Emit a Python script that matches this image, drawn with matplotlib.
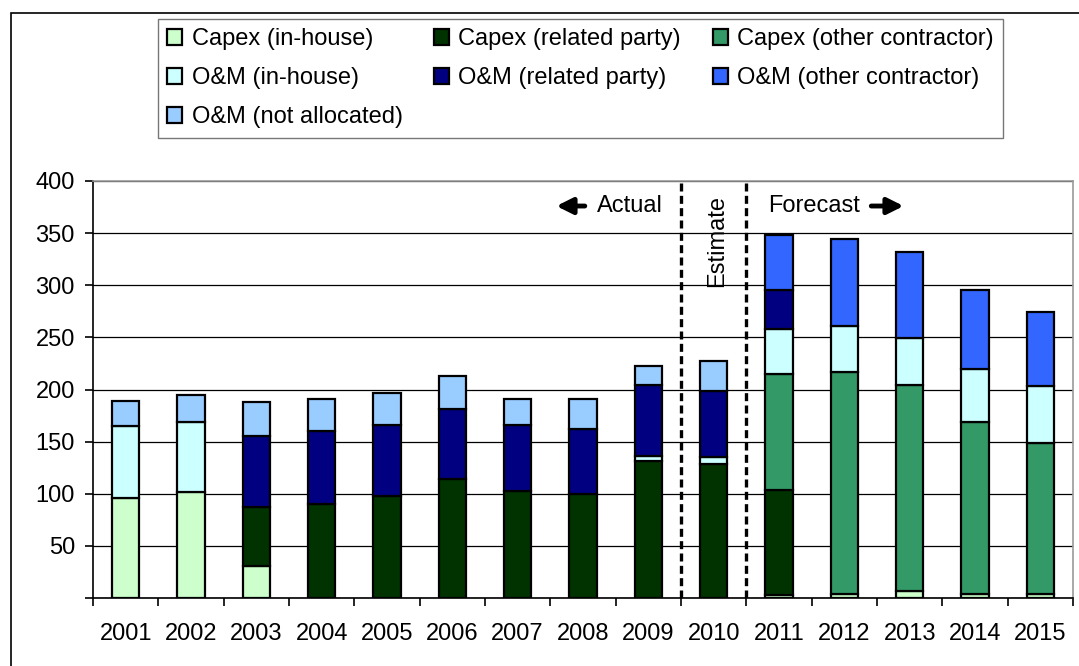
import numpy as np
import matplotlib
matplotlib.use("Agg")
import matplotlib.pyplot as plt
from matplotlib.patches import Rectangle

plt.rcParams['font.family'] = ['Liberation Sans', 'DejaVu Sans']

years = ['2001', '2002', '2003', '2004', '2005', '2006', '2007', '2008',
         '2009', '2010', '2011', '2012', '2013', '2014', '2015']

capex_inhouse = [96, 102, 31, 0, 0, 0, 0, 0, 0, 0, 3, 3.5, 7, 3.5, 3.5]
capex_related = [0, 0, 56, 90.5, 98, 114, 103, 100, 131, 129, 100.5, 0, 0, 0, 0]
capex_other = [0, 0, 0, 0, 0, 0, 0, 0, 0, 0, 111, 213, 197, 165.5, 145.5]
om_inhouse = [69, 67, 0, 0, 0, 0, 0, 0, 5, 6.5, 43.5, 44, 45, 51, 54.5]
om_related = [0, 0, 68, 70, 67.5, 67.5, 62.5, 62, 68, 63, 37, 0, 0, 0, 0]
om_other = [0, 0, 0, 0, 0, 0, 0, 0, 0, 0, 53, 84, 82.5, 75, 71]
om_notalloc = [24, 25.5, 33, 30.5, 31, 31, 25.5, 29, 18.5, 28.5, 0, 0, 0, 0, 0]

series = [
    ('Capex (in-house)', capex_inhouse, '#CCFFCC'),
    ('Capex (related party)', capex_related, '#003300'),
    ('Capex (other contractor)', capex_other, '#339966'),
    ('O&M (in-house)', om_inhouse, '#CCFFFF'),
    ('O&M (related party)', om_related, '#000080'),
    ('O&M (other contractor)', om_other, '#3366FF'),
    ('O&M (not allocated)', om_notalloc, '#99CCFF'),
]

FS = 17
fig = plt.figure(figsize=(10.79, 6.66), dpi=100)
ax = fig.add_axes([93/1079, 1 - 598/666, 980/1079, 417/666])

x = np.arange(len(years))
bottom = np.zeros(len(years))
handles = {}
for name, vals, col in series:
    vals = np.array(vals, dtype=float)
    m = vals > 0
    h = ax.bar(x[m], vals[m], width=0.42, bottom=bottom[m], color=col,
               edgecolor='black', linewidth=1.6, zorder=3, label=name)
    handles[name] = h
    bottom += vals

ax.set_xlim(-0.5, len(years) - 0.5)
ax.set_ylim(0, 400)
ax.set_yticks(np.arange(0, 401, 50))
ax.set_yticklabels([''] + [str(v) for v in range(50, 401, 50)], fontsize=FS)
ax.yaxis.grid(True, color='black', linewidth=0.9, zorder=0)
ax.set_axisbelow(True)

ax.set_xticks(np.arange(-0.5, len(years), 1.0))
ax.set_xticklabels([])
ax.set_xticks(x, minor=True)
ax.set_xticklabels(years, minor=True, fontsize=FS)
ax.tick_params(axis='x', which='major', direction='out', length=6, width=1.2)
ax.tick_params(axis='x', which='minor', length=0, pad=18)
ax.tick_params(axis='y', direction='out', length=6, width=1.2, pad=7)

for s in ['top', 'right']:
    ax.spines[s].set_color('#999999')
    ax.spines[s].set_linewidth(1.2)
for s in ['left', 'bottom']:
    ax.spines[s].set_linewidth(1.2)

for xv in [8.5, 9.5]:
    ax.axvline(xv, color='black', linewidth=2.4, dashes=(2.4, 1.3), zorder=4)

# period labels
ax.text(7.21, 376, 'Actual', fontsize=FS, va='center', ha='left')
ax.annotate('', xy=(6.55, 376), xytext=(7.07, 376),
            arrowprops=dict(arrowstyle='-|>', lw=3.5, color='black', mutation_scale=24))
ax.text(9.06, 342, 'Estimate', fontsize=FS, rotation=90, va='center', ha='center')
ax.text(9.83, 376, 'Forecast', fontsize=FS, va='center', ha='left')
ax.annotate('', xy=(11.95, 376), xytext=(11.37, 376),
            arrowprops=dict(arrowstyle='-|>', lw=3.5, color='black', mutation_scale=24))

order = ['Capex (in-house)', 'O&M (in-house)', 'O&M (not allocated)',
         'Capex (related party)', 'O&M (related party)',
         'Capex (other contractor)', 'O&M (other contractor)']
leg = fig.legend([handles[n] for n in order], order, ncol=3,
                 loc='upper left', bbox_to_anchor=(158/1079, 1 - 19/666),
                 fontsize=FS, frameon=True, fancybox=False, edgecolor='#555555',
                 handlelength=0.62, handleheight=0.62, handletextpad=0.4,
                 columnspacing=1.35, labelspacing=0.72, borderpad=0.4,
                 borderaxespad=0)
leg.get_frame().set_linewidth(1.0)

# outer chart border (left and top visible)
fig.patches.append(Rectangle((11/1079, -0.1), 1.2, 1 - 13/666 + 0.1,
                             transform=fig.transFigure, fill=False,
                             edgecolor='black', linewidth=1.2))

fig.savefig('out.png', dpi=100)
